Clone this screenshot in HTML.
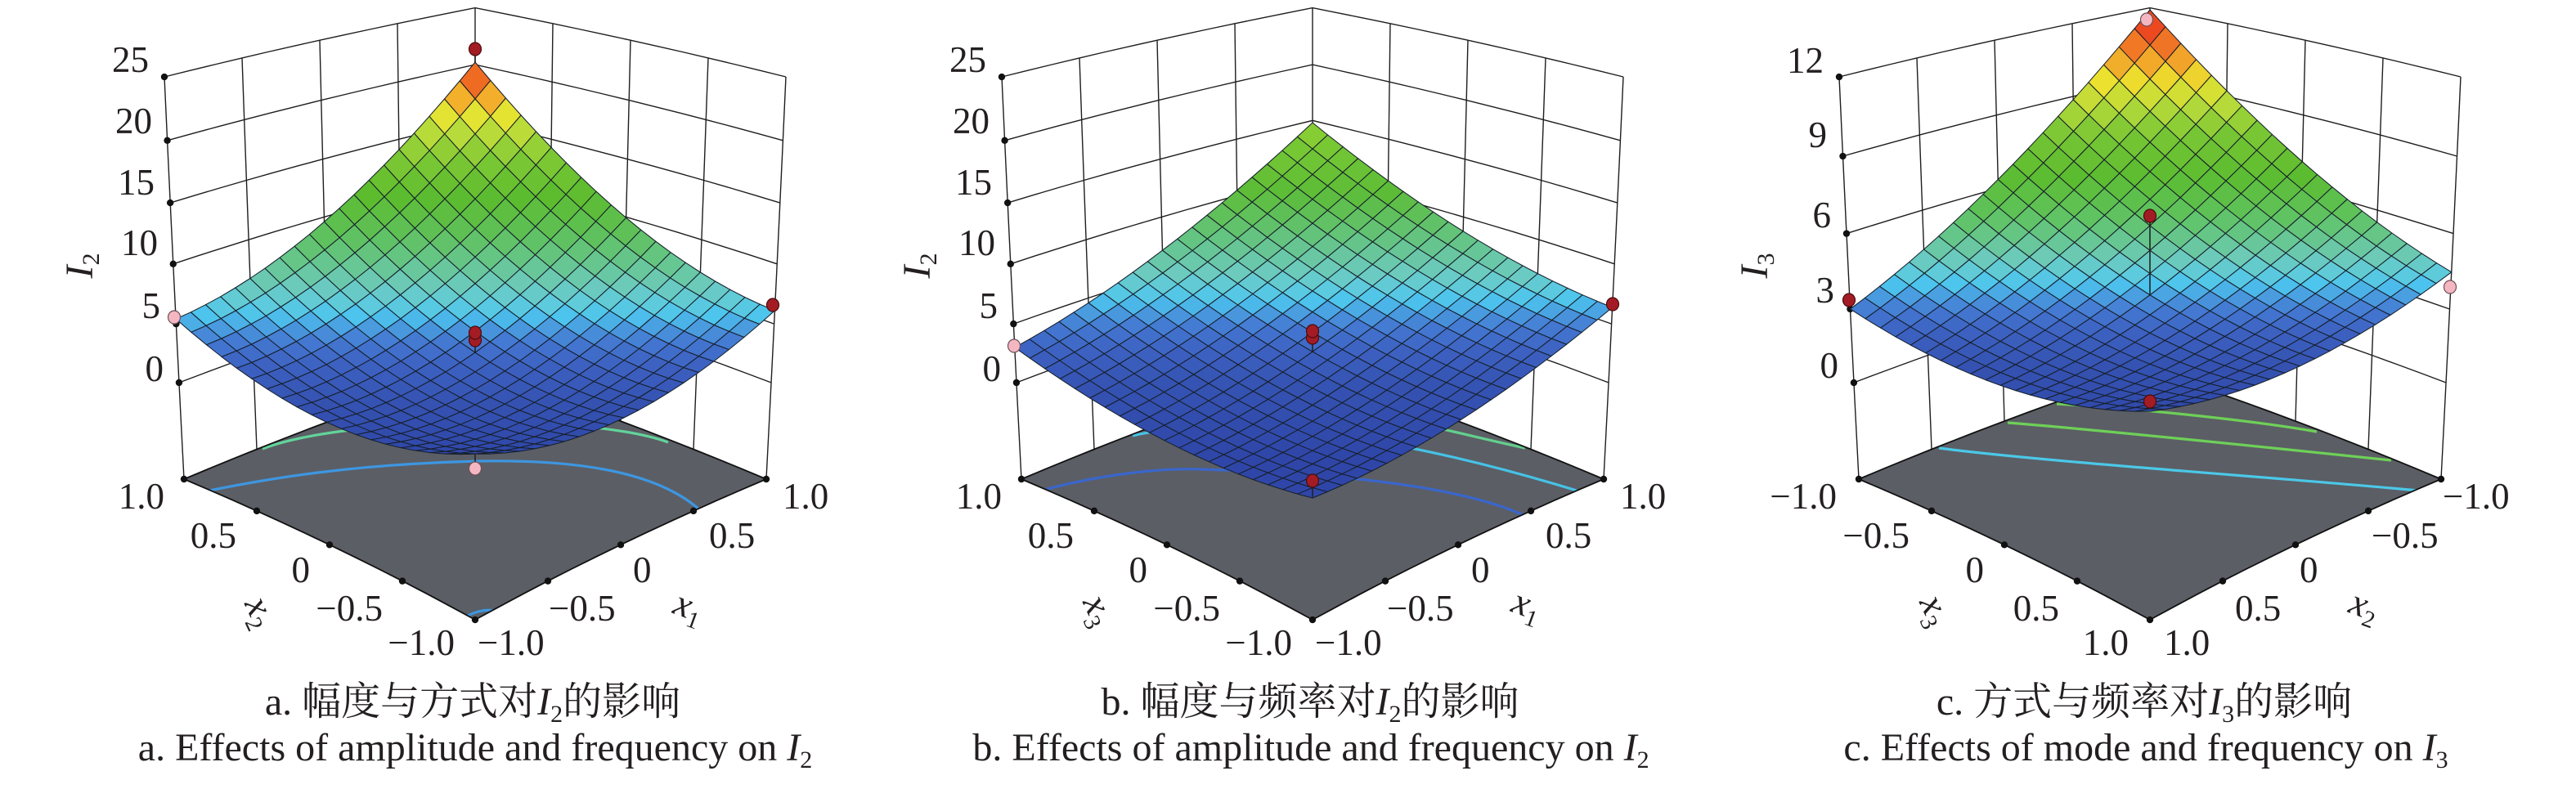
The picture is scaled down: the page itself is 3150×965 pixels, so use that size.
<!DOCTYPE html>
<html><head><meta charset="utf-8">
<style>
html,body{margin:0;padding:0;background:#fff;}
svg{display:block;}
text{font-family:"Liberation Serif","Noto Serif CJK SC",serif;fill:#231f20;}
.t{font-size:45px;}
.c{font-size:48px;}
</style></head>
<body>
<svg id="s" width="3150" height="965" viewBox="0 0 3150 965" xmlns="http://www.w3.org/2000/svg">
<rect x="0" y="0" width="3150" height="965" fill="#fff"/>
<defs id="defs"></defs>
<g id="geo"></g>
<g id="txt">
<!-- Panel a -->
<text class="t" x="182" y="88" text-anchor="end">25</text>
<text class="t" x="186" y="163" text-anchor="end">20</text>
<text class="t" x="189" y="238" text-anchor="end">15</text>
<text class="t" x="193" y="312" text-anchor="end">10</text>
<text class="t" x="196" y="389" text-anchor="end">5</text>
<text class="t" x="200" y="466" text-anchor="end">0</text>
<text class="t" x="201" y="622" text-anchor="end">1.0</text>
<text class="t" x="289" y="670" text-anchor="end">0.5</text>
<text class="t" x="379" y="712" text-anchor="end">0</text>
<text class="t" x="468" y="759" text-anchor="end">−0.5</text>
<text class="t" x="556" y="801" text-anchor="end">−1.0</text>
<text class="t" x="584" y="801">−1.0</text>
<text class="t" x="671" y="759">−0.5</text>
<text class="t" x="774" y="712">0</text>
<text class="t" x="867" y="670">0.5</text>
<text class="t" x="957" y="622">1.0</text>
<text transform="translate(113,325) rotate(-90)" text-anchor="middle" font-size="48"><tspan font-style="italic">I</tspan><tspan font-size="30" dy="8">2</tspan></text>
<text transform="translate(315,750) rotate(65)" text-anchor="middle" font-size="46" y="10"><tspan font-style="italic">x</tspan><tspan font-size="29" dy="9">2</tspan></text>
<text transform="translate(841,746) rotate(20)" text-anchor="middle" font-size="46" y="10"><tspan font-style="italic">x</tspan><tspan font-size="29" dy="9">1</tspan></text>
<text class="c" x="578" y="874" text-anchor="middle">a. 幅度与方式对<tspan font-style="italic">I</tspan><tspan font-size="30" dy="9">2</tspan><tspan dy="-9">的影响</tspan></text>
<text class="c" x="581" y="930" text-anchor="middle">a. Effects of amplitude and frequency on <tspan font-style="italic">I</tspan><tspan font-size="30" dy="9">2</tspan></text>

<!-- Panel b -->
<text class="t" x="1206" y="88" text-anchor="end">25</text>
<text class="t" x="1210" y="163" text-anchor="end">20</text>
<text class="t" x="1213" y="238" text-anchor="end">15</text>
<text class="t" x="1217" y="312" text-anchor="end">10</text>
<text class="t" x="1220" y="389" text-anchor="end">5</text>
<text class="t" x="1224" y="466" text-anchor="end">0</text>
<text class="t" x="1225" y="622" text-anchor="end">1.0</text>
<text class="t" x="1313" y="670" text-anchor="end">0.5</text>
<text class="t" x="1403" y="712" text-anchor="end">0</text>
<text class="t" x="1492" y="759" text-anchor="end">−0.5</text>
<text class="t" x="1580" y="801" text-anchor="end">−1.0</text>
<text class="t" x="1608" y="801">−1.0</text>
<text class="t" x="1696" y="759">−0.5</text>
<text class="t" x="1799" y="712">0</text>
<text class="t" x="1890" y="670">0.5</text>
<text class="t" x="1981" y="622">1.0</text>
<text transform="translate(1137,325) rotate(-90)" text-anchor="middle" font-size="48"><tspan font-style="italic">I</tspan><tspan font-size="30" dy="8">2</tspan></text>
<text transform="translate(1340,748) rotate(65)" text-anchor="middle" font-size="46" y="10"><tspan font-style="italic">x</tspan><tspan font-size="29" dy="9">3</tspan></text>
<text transform="translate(1866,744) rotate(20)" text-anchor="middle" font-size="46" y="10"><tspan font-style="italic">x</tspan><tspan font-size="29" dy="9">1</tspan></text>
<text class="c" x="1602" y="874" text-anchor="middle">b. 幅度与频率对<tspan font-style="italic">I</tspan><tspan font-size="30" dy="9">2</tspan><tspan dy="-9">的影响</tspan></text>
<text class="c" x="1603" y="930" text-anchor="middle">b. Effects of amplitude and frequency on <tspan font-style="italic">I</tspan><tspan font-size="30" dy="9">2</tspan></text>

<!-- Panel c -->
<text class="t" x="2230" y="89" text-anchor="end">12</text>
<text class="t" x="2234" y="180" text-anchor="end">9</text>
<text class="t" x="2239" y="278" text-anchor="end">6</text>
<text class="t" x="2243" y="370" text-anchor="end">3</text>
<text class="t" x="2248" y="462" text-anchor="end">0</text>
<text class="t" x="2246" y="622" text-anchor="end">−1.0</text>
<text class="t" x="2335" y="670" text-anchor="end">−0.5</text>
<text class="t" x="2426" y="712" text-anchor="end">0</text>
<text class="t" x="2518" y="759" text-anchor="end">0.5</text>
<text class="t" x="2603" y="801" text-anchor="end">1.0</text>
<text class="t" x="2646" y="801">1.0</text>
<text class="t" x="2733" y="759">0.5</text>
<text class="t" x="2812" y="712">0</text>
<text class="t" x="2900" y="670">−0.5</text>
<text class="t" x="2987" y="622">−1.0</text>
<text transform="translate(2161,325) rotate(-90)" text-anchor="middle" font-size="48"><tspan font-style="italic">I</tspan><tspan font-size="30" dy="8">3</tspan></text>
<text transform="translate(2363,748) rotate(65)" text-anchor="middle" font-size="46" y="10"><tspan font-style="italic">x</tspan><tspan font-size="29" dy="9">3</tspan></text>
<text transform="translate(2890,745) rotate(20)" text-anchor="middle" font-size="46" y="10"><tspan font-style="italic">x</tspan><tspan font-size="29" dy="9">2</tspan></text>
<text class="c" x="2622" y="874" text-anchor="middle">c. 方式与频率对<tspan font-style="italic">I</tspan><tspan font-size="30" dy="9">3</tspan><tspan dy="-9">的影响</tspan></text>
<text class="c" x="2624" y="930" text-anchor="middle">c. Effects of mode and frequency on <tspan font-style="italic">I</tspan><tspan font-size="30" dy="9">3</tspan></text>
</g>
</svg>
<script>
(function(){
var NS='http://www.w3.org/2000/svg';
var geo=document.getElementById('geo');
var defs=document.getElementById('defs');
function el(tag,attrs,parent){var e=document.createElementNS(NS,tag);for(var k in attrs)e.setAttribute(k,attrs[k]);(parent||geo).appendChild(e);return e;}
function P(ox,a,b,h){var p=b-a,q=a+b-1;var w=1+0.1242*q-0.0632*h;return [ox+581+356*p*(1+0.0675*h),(586-77.9*q-497.9*h)/w];}
function hex(c){return [parseInt(c.slice(1,3),16),parseInt(c.slice(3,5),16),parseInt(c.slice(5,7),16)];}
function cmap(stops,v){
  if(v<=stops[0][0])return stops[0][1];
  for(var i=1;i<stops.length;i++){
    if(v<=stops[i][0]){var t=(v-stops[i-1][0])/(stops[i][0]-stops[i-1][0]);var A=hex(stops[i-1][1]),B=hex(stops[i][1]);
      return 'rgb('+Math.round(A[0]+(B[0]-A[0])*t)+','+Math.round(A[1]+(B[1]-A[1])*t)+','+Math.round(A[2]+(B[2]-A[2])*t)+')';}
  }
  return stops[stops.length-1][1];
}
function pts(arr){return arr.map(function(p){return p[0].toFixed(1)+','+p[1].toFixed(1);}).join(' ');}
var SA=[[70,'#e42a1c'],[95,'#ef6020'],[118,'#f4a82a'],[140,'#e8e432'],[165,'#b4da3a'],[195,'#7ec834'],[240,'#5cbc2e'],[285,'#5ec058'],[320,'#66c68c'],[350,'#6ccabc'],[372,'#5ecbdc'],[386,'#4cc4ee'],[400,'#4a9ee0'],[418,'#4479d2'],[445,'#3d62c2'],[490,'#3553b2'],[560,'#2f46a8']];
var SB=[[145,'#9ad432'],[180,'#78c834'],[235,'#5cbc36'],[280,'#62c270'],[310,'#68c69c'],[335,'#6ccbc0'],[355,'#5ccae0'],[368,'#4cc4ee'],[382,'#4a9ee0'],[400,'#4479d2'],[428,'#3d62c2'],[470,'#3553b2'],[560,'#2f46a8']];
var SC=[[10,'#e4261a'],[40,'#ee5222'],[70,'#f39a28'],[100,'#ece22e'],[130,'#b6da3a'],[165,'#78c634'],[215,'#5cbc30'],[260,'#5ec25a'],[290,'#66c68c'],[315,'#6ccab8'],[335,'#5ecbdc'],[348,'#4cc4ee'],[362,'#4a9ee0'],[380,'#4479d2'],[405,'#3d62c2'],[445,'#3553b2'],[520,'#2f46a8']];
var panels=[
 {ox:0,zt:[0,5,10,15,20,25],zmin:-8.42,zmax:25,c:[.329,.1235,.113,.098,.0968,.0968],st:SA,
  cont:[['M256,600 C330,585 430,568 584,564 C700,562 800,575 855,623','#3e96e0'],['M572,753 Q590,744 606,747','#3e96e0'],['M321,549 C420,510 720,505 817,541','#63d39a']],
  lines:[[581,67,581,77],[581,420,581,431],[581,556,581,566]],
  balls:[[581,60,'r'],[213,388,'p'],[945,373,'r'],[581,416,'r'],[581,407,'r'],[581,573,'p']]},
 {ox:1024,zt:[0,5,10,15,20,25],zmin:-8.42,zmax:25,c:[.331,.128,.0775,.0485,.055,.055],st:SB,
  cont:[['M1280,598 C1350,580 1420,572 1470,574 C1600,578 1780,590 1867,632','#3a66cc'],['M1385,533 C1500,505 1700,530 1928,600','#46c2e6'],['M1600,500 C1700,505 1780,530 1865,548','#63cf8c']],
  lines:[[1605,416,1605,430],[1605,594,1605,608]],
  balls:[[1240,423,'p'],[1972,372,'r'],[1605,413,'r'],[1605,405,'r'],[1605,588,'r']]},
 {ox:2048,zt:[0,3,6,9,12],zmin:-4.04,zmax:12,c:[.474,.152,.106,.126,.0685,.0685],st:SC,
  cont:[['M2371,548 C2500,565 2800,585 2957,600','#4bc8e8'],['M2455,517 C2560,525 2800,550 2924,563','#6ed058'],['M2515,494 C2620,500 2760,515 2833,528','#6ed058']],
  lines:[[2629,272,2629,361]],
  balls:[[2625,24,'p'],[2261,367,'r'],[2996,351,'p'],[2629,264,'r'],[2629,491,'r']]}
];
var N=20;
panels.forEach(function(pn,idx){
  var ox=pn.ox;
  var g=el('g',{});
  // wall horizontal gridlines
  pn.zt.forEach(function(z){
    var h=(z-pn.zmin)/(pn.zmax-pn.zmin);var arr=[];
    for(var k=0;k<=12;k++)arr.push(P(ox,1,k/12,h));
    for(var k=1;k<=12;k++)arr.push(P(ox,1-k/12,1,h));
    el('polyline',{points:pts(arr),fill:'none',stroke:'#1e1e1e','stroke-width':1.4},g);
  });
  // vertical lines
  [[1,0],[1,.25],[1,.5],[1,.75],[1,1],[.75,1],[.5,1],[.25,1],[0,1]].forEach(function(ab){
    var arr=[];for(var k=0;k<=6;k++)arr.push(P(ox,ab[0],ab[1],k/6));
    el('polyline',{points:pts(arr),fill:'none',stroke:'#1e1e1e','stroke-width':1.4},g);
  });
  // floor
  var fl=[];
  for(var k=0;k<=12;k++)fl.push(P(ox,k/12,0,0));
  for(var k=1;k<=12;k++)fl.push(P(ox,1,k/12,0));
  for(var k=1;k<=12;k++)fl.push(P(ox,1-k/12,1,0));
  for(var k=1;k<12;k++)fl.push(P(ox,0,1-k/12,0));
  el('polygon',{points:pts(fl),fill:'#5b5e65',stroke:'none'},g);
  var cp=el('clipPath',{id:'fc'+idx},defs);
  el('polygon',{points:pts(fl)},cp);
  var cg=el('g',{'clip-path':'url(#fc'+idx+')'},g);
  pn.cont.forEach(function(c){el('path',{d:c[0],fill:'none',stroke:c[1],'stroke-width':3.2},cg);});
  el('polygon',{points:pts(fl),fill:'none',stroke:'#111','stroke-width':1.8,'stroke-linejoin':'round'},g);
  // tick dots
  var dots=[[0,0],[1,0],[0,1],[.25,0],[.5,0],[.75,0],[0,.25],[0,.5],[0,.75]];
  dots.forEach(function(d){var p=P(ox,d[0],d[1],0);el('circle',{cx:p[0],cy:p[1],r:4.2,fill:'#111'},g);});
  pn.zt.forEach(function(z){var h=(z-pn.zmin)/(pn.zmax-pn.zmin);var p=P(ox,1,0,h);el('circle',{cx:p[0],cy:p[1],r:4.2,fill:'#111'},g);});
  // surface
  var c=pn.c;
  function H(a,b){var s=2*b-1,t=2*a-1;return c[0]+c[1]*s+c[2]*t+c[3]*s*t+c[4]*s*s+c[5]*t*t;}
  var quads=[];
  for(var i=0;i<N;i++)for(var j=0;j<N;j++){
    var a0=i/N,a1=(i+1)/N,b0=j/N,b1=(j+1)/N;
    var q=[P(ox,a0,b0,H(a0,b0)),P(ox,a1,b0,H(a1,b0)),P(ox,a1,b1,H(a1,b1)),P(ox,a0,b1,H(a0,b1))];
    var vy=(q[0][1]+q[1][1]+q[2][1]+q[3][1])/4;
    quads.push({k:a0+b0,pts:q,col:cmap(pn.st,vy)});
  }
  quads.sort(function(x,y){return y.k-x.k;});
  var sg=el('g',{'stroke-linejoin':'round'},g);
  quads.forEach(function(qd){el('polygon',{points:pts(qd.pts),fill:qd.col,stroke:'#17202c','stroke-width':1.05},sg);});
  // design point lines and balls
  pn.lines.forEach(function(l){el('line',{x1:l[0],y1:l[1],x2:l[2],y2:l[3],stroke:'#222','stroke-width':1.6},g);});
  pn.balls.forEach(function(b){
    if(b[2]==='r')el('ellipse',{cx:b[0],cy:b[1],rx:7.5,ry:8,fill:'#a31c24',stroke:'#4a0c10','stroke-width':1.2},g);
    else el('ellipse',{cx:b[0],cy:b[1],rx:7.5,ry:8,fill:'#f4b7c2',stroke:'#6e5058','stroke-width':1.2},g);
  });
});
})();
</script>
</body></html>
